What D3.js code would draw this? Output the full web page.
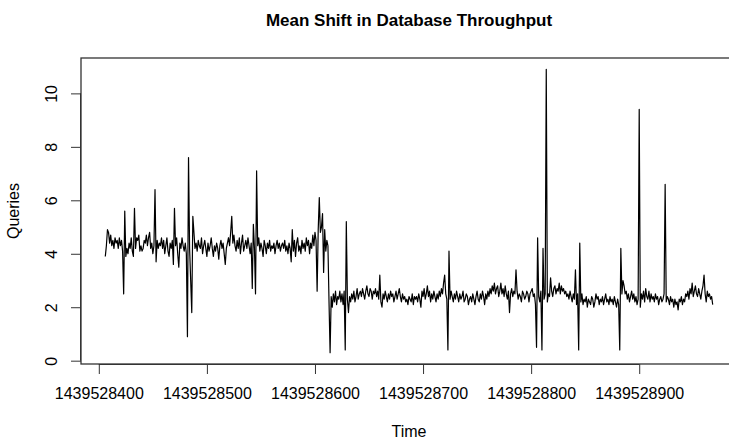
<!DOCTYPE html>
<html>
<head>
<meta charset="utf-8">
<script src="https://cdn.jsdelivr.net/npm/d3@7"></script>
<style>
  html, body { margin: 0; padding: 0; background: #fff; }
  svg { display: block; font-family: "Liberation Sans", Arial, Helvetica, sans-serif; }
</style>
</head>
<body>
<svg id="chart" width="729" height="440"></svg>
<script>
// ---- data ----
const title = "Mean Shift in Database Throughput";
const xLabel = "Time";
const yLabel = "Queries";
const startTime = 1439528406;   // first sample (one sample per second)
const sampleInterval = 1;
const xTicks = [1439528400, 1439528500, 1439528600, 1439528700, 1439528800, 1439528900];
const yTicks = [0, 2, 4, 6, 8, 10];

// before the shift (t = ...406 .. ...613)
const queriesBefore = [
  3.9, 4.3, 4.9, 4.8, 4.4, 4.7, 4.3, 4.5, 4.2, 4.6,
  4.4, 4.5, 4.2, 4.6, 4.3, 4.5, 4.1, 2.5, 5.6, 3.9,
  4.2, 4.0, 4.4, 4.2, 4.6, 4.1, 3.9, 5.7, 4.2, 4.6,
  4.5, 4.7, 4.1, 4.3, 4.1, 4.2, 4.5, 4.4, 4.7, 4.3,
  4.6, 4.8, 4.2, 4.4, 4.0, 4.3, 6.4, 3.7, 4.5, 4.2,
  4.4, 4.3, 4.6, 4.2, 4.5, 4.0, 4.3, 4.6, 4.1, 3.9,
  4.4, 4.2, 4.5, 3.6, 5.7, 4.3, 4.6, 4.0, 3.5, 4.4,
  4.2, 4.6, 4.3, 4.1, 4.4, 4.0, 0.9, 7.6, 4.2, 3.0,
  1.8, 5.4, 4.8, 4.2, 4.4, 4.1, 4.5, 4.3, 4.2, 4.6,
  4.0, 4.3, 4.5, 4.2, 3.9, 4.4, 4.1, 4.3, 4.6, 4.2,
  3.9, 4.3, 4.1, 4.4, 4.2, 3.8, 4.3, 4.5, 4.2, 4.4,
  4.0, 3.6, 4.2, 4.4, 4.6, 4.3, 4.8, 5.4, 4.4, 4.7,
  4.3, 4.1, 4.5, 4.2, 4.6, 4.0, 4.4, 4.7, 4.1, 4.3,
  4.5, 4.2, 4.6, 4.3, 4.0, 4.4, 2.7, 5.1, 4.2, 2.5,
  7.1, 4.3, 4.6, 4.1, 4.4, 4.2, 3.9, 4.5, 4.3, 4.0,
  4.4, 4.2, 4.5, 4.1, 4.3, 4.2, 4.4, 4.0, 4.3, 4.5,
  4.2, 4.4, 4.1, 4.3, 4.4, 4.2, 4.5, 4.1, 4.3, 4.0,
  4.4, 4.2, 3.7, 4.9, 4.1, 4.5, 3.9, 4.4, 4.6, 4.1,
  4.3, 4.0, 4.5, 4.2, 4.4, 4.1, 4.6, 4.3, 4.5, 4.0,
  4.4, 4.2, 4.7, 4.3, 4.8, 4.5, 2.6, 4.9, 6.1, 4.8,
  5.0, 5.5, 3.3, 4.9, 4.1, 4.5, 4.3, 2.2
];

// after the shift (t = ...614 .. ...968)
const queriesAfter = [
  0.3, 2.4, 2.0, 2.5, 2.2, 2.6, 2.1, 2.4, 2.3, 2.6,
  2.2, 2.5, 2.1, 2.6, 0.4, 5.2, 2.3, 1.8, 2.4, 2.2,
  2.5, 2.3, 2.6, 2.2, 2.4, 2.7, 2.3, 2.5, 2.6, 2.4,
  2.7, 2.5, 2.3, 2.6, 2.8, 2.5, 2.4, 2.7, 2.6, 2.3,
  2.6, 2.5, 2.7, 2.4, 2.6, 2.3, 3.2, 2.2, 2.0, 2.5,
  2.3, 2.6, 2.4, 2.2, 2.5, 2.3, 2.6, 2.4, 2.5, 2.2,
  2.4, 2.6, 2.3, 2.5, 2.7, 2.4, 2.2, 2.5, 2.3, 2.4,
  2.2, 2.3, 2.1, 2.4, 2.3, 2.2, 2.5, 2.1, 2.4, 2.3,
  2.4, 2.2, 2.5, 2.3, 2.0, 2.6, 2.4, 2.7, 2.3, 2.5,
  2.8, 2.4, 2.6, 2.2, 2.5, 2.3, 2.6, 2.4, 2.2, 2.5,
  2.3, 2.6, 2.4, 2.7, 2.5, 2.9, 3.2, 2.5, 2.3, 0.4,
  4.1, 2.3, 2.6, 2.4, 2.2, 2.5, 2.3, 2.6, 2.4, 2.2,
  2.5, 2.3, 2.4, 2.6, 2.2, 2.3, 2.5, 2.4, 2.1, 2.3,
  2.4, 2.2, 2.5, 2.3, 2.1, 2.4, 2.6, 2.3, 2.2, 2.5,
  2.3, 2.6, 2.4, 2.1, 2.5, 2.3, 2.6, 2.4, 2.7, 2.5,
  2.8, 2.6, 2.9, 2.5, 2.7, 2.8, 2.4, 2.6, 2.9, 2.5,
  2.7, 2.4, 2.8, 2.5, 2.3, 2.6, 1.8, 2.5, 2.7, 2.4,
  2.6, 2.5, 3.4, 2.6, 2.3, 2.5, 2.4, 2.2, 2.6, 2.5,
  2.3, 2.4, 2.6, 2.5, 2.2, 2.5, 2.6, 2.7, 2.4, 2.5,
  2.1, 0.5, 4.6, 2.4, 2.2, 2.6, 0.4, 4.2, 2.3, 2.5,
  10.9, 2.2, 2.5, 2.4, 3.1, 2.6, 2.4, 2.7, 2.8, 2.5,
  2.7, 2.6, 2.9, 2.5, 2.8, 2.6, 2.7, 2.5, 2.6, 2.4,
  2.5, 2.3, 2.6, 2.4, 2.2, 2.5, 2.3, 3.4, 2.1, 2.5,
  0.4, 4.4, 2.2, 2.5, 2.1, 2.3, 2.2, 2.4, 2.0, 2.3,
  2.2, 2.1, 2.4, 2.3, 2.0, 2.2, 2.5, 2.3, 2.4, 2.1,
  2.3, 2.2, 2.4, 2.1, 2.3, 2.5, 2.2, 2.3, 2.1, 2.4,
  2.2, 2.3, 2.1, 2.4, 2.2, 2.0, 2.3, 2.1, 0.4, 4.2,
  2.5, 3.0, 2.8, 2.5, 2.6, 2.3, 2.5, 2.2, 2.4, 2.6,
  2.3, 2.5, 2.2, 2.4, 2.1, 2.3, 9.4, 2.0, 2.5, 2.3,
  2.6, 2.2, 2.7, 2.4, 2.3, 2.6, 2.2, 2.5, 2.3, 2.4,
  2.2, 2.5, 2.3, 2.4, 2.1, 2.3, 2.4, 2.2, 2.3, 2.5,
  6.6, 2.2, 2.4, 2.3, 2.1, 2.4, 2.2, 2.3, 2.0, 2.3,
  2.1, 2.2, 1.9, 2.3, 2.2, 2.4, 2.1, 2.3, 2.2, 2.5,
  2.4, 2.6, 2.3, 2.7, 2.5, 2.9, 2.4, 2.6, 2.8, 2.5,
  2.4, 2.7, 2.5, 2.3, 2.6, 2.8, 3.2, 2.5, 2.2, 2.6,
  2.4, 2.5, 2.3, 2.4, 2.1
];

// ---- build table ----
const queries = queriesBefore.concat(queriesAfter);
const series = queries.map((v, i) => ({ t: startTime + i * sampleInterval, v }));

// ---- layout ----
const svg = d3.select("#chart");
const box = { left: 81, top: 58, right: 737, bottom: 364 };

// R-style 4% padding around the data range
const tExt = d3.extent(series, d => d.t);
const vExt = d3.extent(series, d => d.v);
const tPad = 0.04 * (tExt[1] - tExt[0]);
const vPad = 0.04 * (vExt[1] - vExt[0]);

const x = d3.scaleLinear().domain([tExt[0] - tPad, tExt[1] + tPad]).range([box.left, box.right]);
const y = d3.scaleLinear().domain([vExt[0] - vPad, vExt[1] + vPad]).range([box.bottom, box.top]);

// line
const line = d3.line().x(d => x(d.t)).y(d => y(d.v));
svg.append("path")
  .datum(series)
  .attr("d", line)
  .attr("fill", "none")
  .attr("stroke", "#000")
  .attr("stroke-width", 1.2)
  .attr("stroke-linejoin", "round");

// plot box
svg.append("rect")
  .attr("x", box.left).attr("y", box.top)
  .attr("width", box.right - box.left).attr("height", box.bottom - box.top)
  .attr("fill", "none").attr("stroke", "#333").attr("stroke-width", 1.3);

// x axis
const xAxis = d3.axisBottom(x).tickValues(xTicks).tickFormat(d3.format("d")).tickSize(10).tickPadding(14);
const gx = svg.append("g").attr("transform", `translate(0,${box.bottom})`).call(xAxis);
gx.select(".domain").attr("d", `M${x(xTicks[0])},0.5H${x(xTicks[xTicks.length - 1])}`).attr("stroke", "#333");
gx.selectAll(".tick line").attr("stroke", "#333");
gx.selectAll(".tick text").attr("font-size", 16).attr("fill", "#000")
  .attr("font-family", "Liberation Sans, Arial, sans-serif");

// y axis
const yAxis = d3.axisLeft(y).tickValues(yTicks).tickFormat(d3.format("d")).tickSize(10);
const gy = svg.append("g").attr("transform", `translate(${box.left},0)`).call(yAxis);
gy.select(".domain").attr("d", `M-0.5,${y(yTicks[0])}V${y(yTicks[yTicks.length - 1])}`).attr("stroke", "#333");
gy.selectAll(".tick line").attr("stroke", "#333");
gy.selectAll(".tick text")
  .attr("font-size", 16).attr("fill", "#000")
  .attr("font-family", "Liberation Sans, Arial, sans-serif")
  .attr("x", null).attr("dy", null)
  .attr("text-anchor", "middle")
  .attr("transform", "translate(-24,0) rotate(-90)");

// title and axis labels
const cx = (box.left + box.right) / 2;
svg.append("text").attr("x", cx).attr("y", 26)
  .attr("text-anchor", "middle").attr("font-size", 17).attr("font-weight", "bold")
  .text(title);
svg.append("text").attr("x", cx).attr("y", 437)
  .attr("text-anchor", "middle").attr("font-size", 16)
  .text(xLabel);
svg.append("text")
  .attr("transform", `translate(19,${(box.top + box.bottom) / 2}) rotate(-90)`)
  .attr("text-anchor", "middle").attr("font-size", 16)
  .text(yLabel);
</script>
</body>
</html>
